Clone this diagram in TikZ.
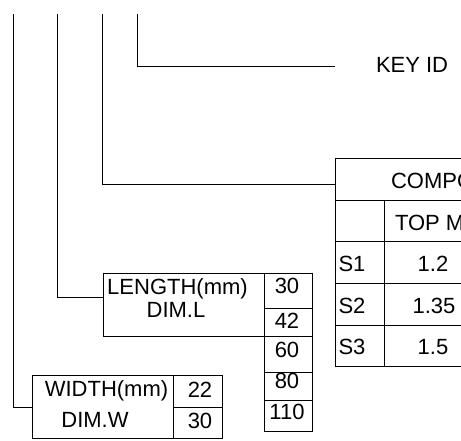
\documentclass[tikz,border=0pt]{standalone}
\usepackage{fontspec}
\setmainfont{Liberation Sans}
\begin{document}
\begin{tikzpicture}[x=1pt,y=-1pt,
  every node/.style={font=\fontsize{22}{24}\selectfont, inner sep=0pt, outer sep=0pt},
  ln/.style={line width=0.9pt, draw=black},
  txt/.style={anchor=base},
  txtw/.style={anchor=base west},
  box/.style={draw, line width=0.9pt, anchor=north west}
]
\useasboundingbox (0,0) rectangle (461,440);
\clip (0,0) rectangle (461,440);

% top coordinates of the leader lines
\coordinate (tW) at (13,14);
\coordinate (tL) at (57,14);
\coordinate (tC) at (102,14);
\coordinate (tK) at (137,14);

% KEY ID
\coordinate (kend) at (335,66);
\node[txtw] (keyid) at (376,72) {KEY ID};
\draw[ln] (tK) |- (kend);

% Table (clipped at right)
\node[box, minimum width=200pt, minimum height=42pt] (ttitle) at (335,158) {};
\node[box, minimum width=49pt, minimum height=41pt] (h1) at (335,200) {};
\node[box, minimum width=151pt, minimum height=41pt] (h2) at (384,200) {};
\node[box, minimum width=49pt, minimum height=42pt] (a1) at (335,241) {};
\node[box, minimum width=151pt, minimum height=42pt] (a2) at (384,241) {};
\node[box, minimum width=49pt, minimum height=42pt] (b1) at (335,283) {};
\node[box, minimum width=151pt, minimum height=42pt] (b2) at (384,283) {};
\node[box, minimum width=49pt, minimum height=41pt] (c1) at (335,325) {};
\node[box, minimum width=151pt, minimum height=41pt] (c2) at (384,325) {};
\node[txtw] (tcomp) at (391,188) {COMPONENT};
\node[txtw] (ttop) at (395,230) {TOP MAT};
\node[txt] (s1) at (352,271) {S1};
\node[txt] (s2) at (352,313) {S2};
\node[txt] (s3) at (352,354) {S3};
\node[txt] (v1) at (433,271) {1.2};
\node[txt] (v2) at (434,313) {1.35};
\node[txt] (v3) at (433,354) {1.5};
\coordinate (cin) at (335,184);
\draw[ln] (tC) |- (cin);

% LENGTH box
\node[box, minimum width=161pt, minimum height=63pt] (lenbox) at (103,273) {};
\node[txt] (lenlab) at (177.5,294) {LENGTH(mm)};
\node[txt] (lendim) at (176,317) {DIM.L};
\node[box, minimum width=48pt, minimum height=35pt] (n1) at (264,273) {};
\node[box, minimum width=48pt, minimum height=28pt] (n2) at (264,308) {};
\node[box, minimum width=48pt, minimum height=36pt] (n3) at (264,336) {};
\node[box, minimum width=48pt, minimum height=28pt] (n4) at (264,372) {};
\node[box, minimum width=48pt, minimum height=31pt] (n5) at (264,400) {};
\node[txt] (t30) at (287,293) {30};
\node[txt] (t42) at (287,328) {42};
\node[txt] (t60) at (287,357) {60};
\node[txt] (t80) at (287,388) {80};
\node[txt] (t110) at (287,419) {110};
\coordinate (lin) at (103,297);
\draw[ln] (tL) |- (lin);

% WIDTH box
\node[box, minimum width=141pt, minimum height=63pt] (widbox) at (32,375) {};
\node[txt] (widlab) at (106.5,396) {WIDTH(mm)};
\node[txt] (widdim) at (95,427) {DIM.W};
\node[box, minimum width=49pt, minimum height=32pt] (w1) at (173,375) {};
\node[box, minimum width=49pt, minimum height=31pt] (w2) at (173,407) {};
\node[txt] (t22) at (200,397) {22};
\node[txt] (tw30) at (200,428) {30};
\coordinate (win) at (32,407);
\draw[ln] (tW) |- (win);
\end{tikzpicture}
\end{document}
